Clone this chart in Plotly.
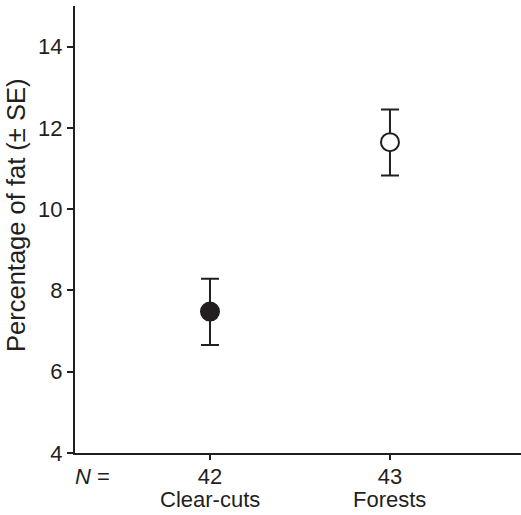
import plotly.graph_objects as go

categories = ["Clear-cuts", "Forests"]
n_values = ["42", "43"]
means = [7.48, 11.65]
se_plus = [0.81, 0.80]
se_minus = [0.82, 0.82]
y_ticks = [4, 6, 8, 10, 12, 14]

INK = "#231f20"
FONT = dict(family="Liberation Sans, Arial, sans-serif", size=22, color=INK)

fig = go.Figure()
fills = [INK, "white"]
for i, cat in enumerate(categories):
    fig.add_trace(go.Scatter(
        x=[i], y=[means[i]], mode="markers",
        marker=dict(symbol="circle", size=18, color=fills[i],
                    line=dict(color=INK, width=2)),
        error_y=dict(type="data", symmetric=False,
                     array=[se_plus[i]], arrayminus=[se_minus[i]],
                     color=INK, thickness=2, width=9),
        showlegend=False, name=cat,
    ))

for i, cat in enumerate(categories):
    fig.add_annotation(x=i, xref="x", y=0, yref="paper", text=cat,
                       showarrow=False, yanchor="middle", yshift=-46,
                       font=FONT)
fig.add_annotation(x=0, xref="paper", y=0, yref="paper", text="<i>N</i> =",
                   showarrow=False, xanchor="left", yanchor="middle", yshift=-23,
                   xshift=-2, font=FONT)
fig.add_annotation(x=0, xref="paper", y=15 - (216 - 6) / 40.64, yref="y",
                   xshift=-59, text="Percentage of fat (± SE)", textangle=-90,
                   showarrow=False, xanchor="center", yanchor="middle",
                   font=dict(family=FONT["family"], size=25.5, color=INK))

fig.update_layout(
    width=521, height=515,
    margin=dict(l=75, r=0, t=6, b=62),
    paper_bgcolor="white", plot_bgcolor="white",
    font=FONT,
    xaxis=dict(range=[-0.75, 1.728], tickvals=[0, 1], ticktext=n_values,
               showline=True, linecolor=INK, linewidth=2, showgrid=False,
               zeroline=False, ticks="outside", ticklen=5, tickwidth=2,
               tickcolor=INK, tickfont=FONT, ticklabelstandoff=-2),
    yaxis=dict(range=[4, 15], tickvals=y_ticks, showline=True, linecolor=INK,
               linewidth=2, showgrid=False, zeroline=False, ticks="outside",
               ticklen=6, tickwidth=2, tickcolor=INK, tickfont=FONT),
)

fig.write_html("out.html", config={"displayModeBar": False},
               post_script="document.body.style.margin='0';")
